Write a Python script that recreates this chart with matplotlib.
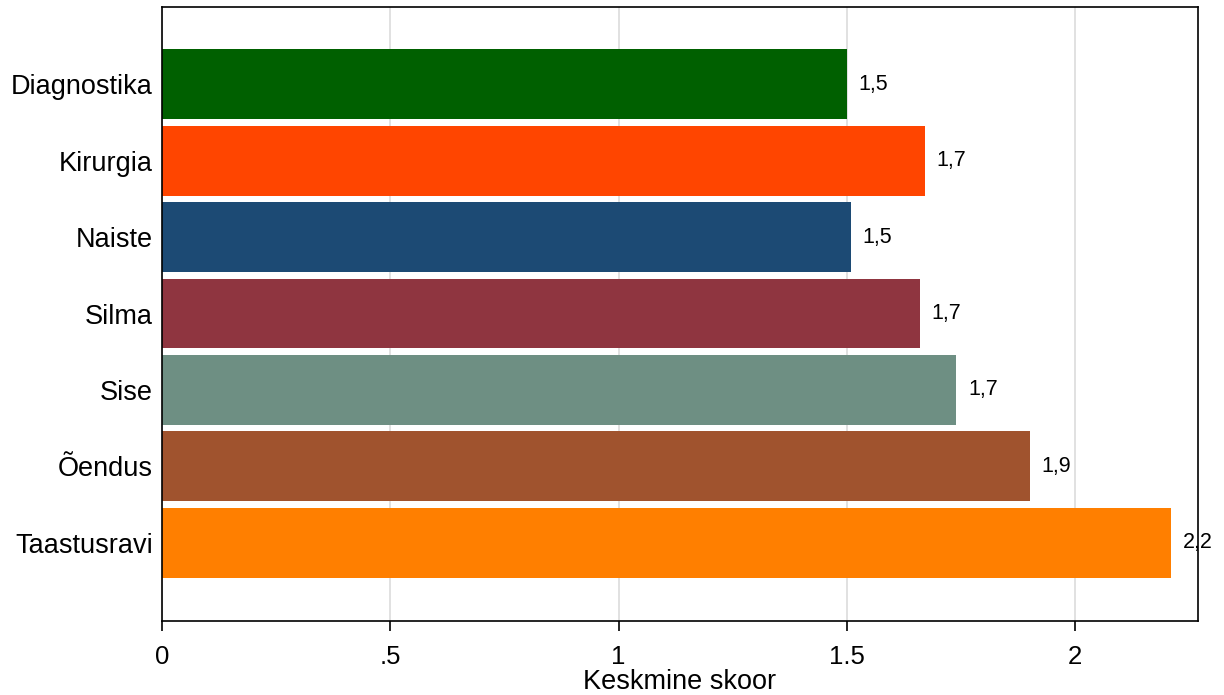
import matplotlib
matplotlib.use("Agg")
import matplotlib.pyplot as plt

plt.rcParams['font.family'] = ['Liberation Sans', 'DejaVu Sans']

categories = ["Diagnostika", "Kirurgia", "Naiste", "Silma", "Sise", "Õendus", "Taastusravi"]
values = [1.50, 1.67, 1.51, 1.66, 1.74, 1.90, 2.21]
colors = ["#006000", "#ff4500", "#1c4a74", "#8f3540", "#6e8f83", "#a0532e", "#ff7f00"]
xticks = [0, 0.5, 1, 1.5, 2]
xticklabels = ["0", ".5", "1", "1.5", "2"]

fig = plt.figure(figsize=(12.24, 6.95), dpi=100)
ax = fig.add_axes([162 / 1224, 1 - 621 / 695, (1198 - 162) / 1224, (621 - 7) / 695])

pos = list(range(len(categories)))
ax.barh(pos, values, height=0.915, color=colors, zorder=2)
for p, v in zip(pos, values):
    ax.text(v + 0.025, p, f"{v:.1f}".replace(".", ","), va="center", ha="left", fontsize=15.5)

ax.set_xlim(0, 2.269)
ax.set_ylim(7.02, -1.007)
ax.set_yticks(pos)
ax.set_yticklabels(categories, fontsize=19.5)
ax.tick_params(axis="y", length=0, pad=6.5)
ax.set_xticks(xticks)
ax.set_xticklabels(xticklabels, fontsize=18.5)
ax.tick_params(axis="x", length=7, width=1.2, pad=10)
ax.xaxis.grid(True, color="#dcdcdc", linewidth=1.2, zorder=0)
ax.set_axisbelow(True)
for s in ax.spines.values():
    s.set_linewidth(1.2)
ax.set_xlabel("Keskmine skoor", fontsize=19.5, labelpad=0)

fig.savefig("out.png", dpi=100)
